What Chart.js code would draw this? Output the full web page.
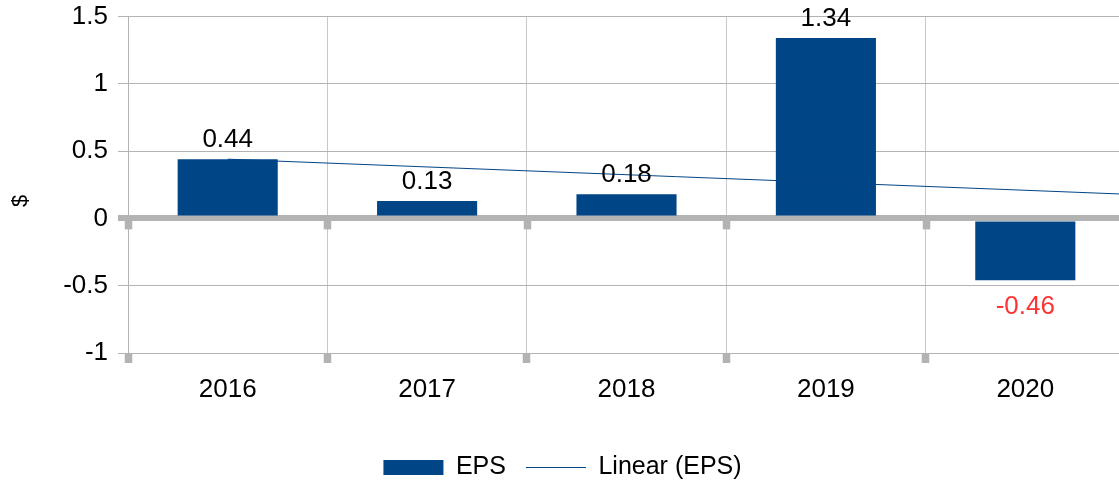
<!DOCTYPE html>
<html>
<head>
<meta charset="utf-8">
<script src="https://cdn.jsdelivr.net/npm/chart.js@4.4.1/dist/chart.umd.min.js"></script>
<style>
  html, body { margin: 0; padding: 0; background: #fff; overflow: hidden; }
  #wrap { position: relative; width: 1125px; height: 482px; }
</style>
</head>
<body>
<div id="wrap"><canvas id="epsChart"></canvas></div>
<script>
// data
const years = ["2016", "2017", "2018", "2019", "2020"];
const eps = [0.44, 0.13, 0.18, 1.34, -0.46];
// linear trend: value at the 2016 column and at the right edge of the plot
const trendX = [0, 4.5];
const trendY = [0.44, 0.18];
const yTicks = [-1, -0.5, 0, 0.5, 1, 1.5];

const barColor = "#004586";
const gridColor = "#b3b3b3";
const fontFamily = "'Liberation Sans', Arial, sans-serif";

Chart.defaults.font.family = fontFamily;
Chart.defaults.color = "#000";

// value labels above / below the bars
const valueLabels = {
  id: "valueLabels",
  afterDatasetsDraw(chart) {
    const ctx = chart.ctx;
    const meta = chart.getDatasetMeta(0);
    ctx.save();
    ctx.font = "26px " + fontFamily;
    ctx.textAlign = "center";
    ctx.textBaseline = "alphabetic";
    meta.data.forEach((bar, i) => {
      const v = eps[i];
      if (v >= 0) {
        ctx.fillStyle = "#000";
        ctx.fillText(String(v), bar.x, bar.y - 12);
      } else {
        ctx.fillStyle = "#ff3333";
        ctx.fillText(String(v), bar.x, bar.y + 34);
      }
    });
    ctx.restore();
  }
};

// little square tick marks hanging under the zero line, plus the "$" title
const axisExtras = {
  id: "axisExtras",
  beforeDatasetsDraw(chart) {
    const ctx = chart.ctx;
    const x = chart.scales.x;
    const y = chart.scales.y;
    const y0 = y.getPixelForValue(0);
    const half = (x.getPixelForValue(1) - x.getPixelForValue(0)) / 2;
    ctx.save();
    ctx.fillStyle = gridColor;
    for (let i = 0; i <= years.length; i++) {
      const bx = Math.round(x.getPixelForValue(i) - half) + 0.5;
      ctx.fillRect(bx - 3.75, y0, 7.5, 11);
    }
    ctx.restore();
  },
  afterDraw(chart) {
    const ctx = chart.ctx;
    ctx.save();
    ctx.translate(21, 201);
    ctx.rotate(-Math.PI / 2);
    ctx.font = "22px " + fontFamily;
    ctx.fillStyle = "#000";
    ctx.textAlign = "center";
    ctx.textBaseline = "middle";
    ctx.fillText("$", 0, 0);
    ctx.restore();
  }
};

new Chart(document.getElementById("epsChart"), {
  type: "bar",
  data: {
    labels: years,
    datasets: [
      {
        label: "EPS",
        data: eps,
        backgroundColor: barColor,
        borderWidth: 0,
        grouped: false,
        categoryPercentage: 1,
        barPercentage: 0.502,
        pointStyle: "rect",
        order: 1
      },
      {
        type: "line",
        label: "Linear (EPS)",
        data: trendX.map((v, i) => ({ x: v, y: trendY[i] })),
        xAxisID: "xt",
        borderColor: barColor,
        backgroundColor: barColor,
        borderWidth: 1,
        pointRadius: 0,
        pointStyle: "line",
        order: 0
      }
    ]
  },
  options: {
    responsive: true,
    maintainAspectRatio: false,
    animation: false,
    layout: { padding: { top: 16.5, left: 0, right: 0, bottom: -8 } },
    plugins: {
      tooltip: { enabled: false },
      legend: {
        position: "bottom",
        labels: {
          usePointStyle: true,
          pointStyleWidth: 60,
          boxHeight: 15,
          padding: 20,
          font: { size: 25 },
          color: "#000",
          sort: (a, b) => a.datasetIndex - b.datasetIndex
        }
      }
    },
    scales: {
      x: {
        type: "category",
        offset: true,
        afterFit(scale) {
          scale.height = 82;
          scale.paddingLeft = 0;
          scale.paddingRight = 0;
        },
        grid: {
          offset: true,
          color: "#c8c8c8",
          lineWidth: 1,
          tickLength: 10,
          tickWidth: 7.5,
          tickColor: gridColor
        },
        border: { color: gridColor },
        ticks: { font: { size: 26 }, padding: 11, color: "#000" }
      },
      xt: {
        type: "linear",
        display: false,
        offset: false,
        grid: { offset: false },
        min: -0.5,
        max: 4.5
      },
      y: {
        min: -1,
        max: 1.5,
        afterFit(scale) {
          scale.width = 128;
          scale.paddingTop = 0;
          scale.paddingBottom = 0;
        },
        afterBuildTicks(scale) { scale.ticks = yTicks.map(v => ({ value: v })); },
        grid: {
          color: gridColor,
          lineWidth: ctx => (ctx.tick && ctx.tick.value === 0 ? 6 : 1),
          tickLength: 10,
          tickColor: gridColor
        },
        border: { color: gridColor },
        ticks: {
          font: { size: 26 },
          padding: 10,
          color: "#000",
          callback: v => String(v)
        }
      }
    }
  },
  plugins: [axisExtras, valueLabels]
});
</script>
</body>
</html>
